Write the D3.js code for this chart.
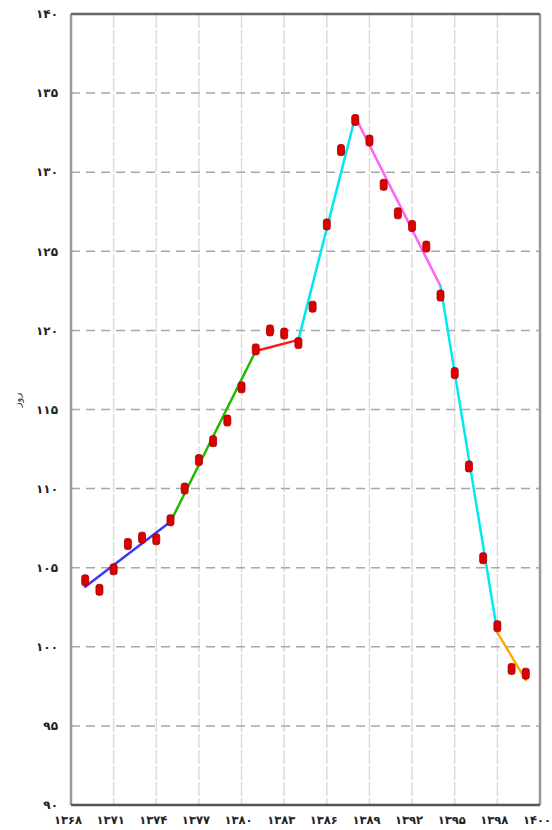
<!DOCTYPE html>
<html>
  <head>
    <meta charset="utf-8">
    <script type="text/javascript" src="https://cdn.jsdelivr.net/npm/d3@7"></script>
    <style>
      body { margin: 0; background: #fff; }
      text { font-family: "DejaVu Sans", sans-serif; }
    </style>
  </head>
  <body>
    <script type="text/javascript">
      WIDTH = 552
      HEIGHT = 830

      // observed values, one per year
      var years = [1369, 1370, 1371, 1372, 1373, 1374, 1375, 1376, 1377, 1378, 1379, 1380,
                   1381, 1382, 1383, 1384, 1385, 1386, 1387, 1388, 1389, 1390, 1391, 1392,
                   1393, 1394, 1395, 1396, 1397, 1398, 1399, 1400]
      var values = [104.2, 103.6, 104.9, 106.5, 106.9, 106.8, 108.0, 110.0, 111.8, 113.0, 114.3, 116.4,
                    118.8, 120.0, 119.8, 119.2, 121.5, 126.7, 131.4, 133.3, 132.0, 129.2, 127.4, 126.6,
                    125.3, 122.2, 117.3, 111.4, 105.6, 101.3, 98.6, 98.3]

      // fitted trend, piecewise between break years
      var breakYears = [1369, 1375, 1381, 1384, 1388, 1394, 1398, 1400]
      var breakValues = [103.8, 107.9, 118.7, 119.4, 133.5, 122.8, 100.9, 97.9]
      var segmentColors = ["#3a3aff", "#22bb00", "#ff1a1a", "#00e8f0", "#ff66ee", "#00e8f0", "#ffaa00"]

      // tick labels
      var xTicks = [1368, 1371, 1374, 1377, 1380, 1383, 1386, 1389, 1392, 1395, 1398]
      var xTickLabels = ["۱۳۶۸", "۱۳۷۱", "۱۳۷۴", "۱۳۷۷", "۱۳۸۰", "۱۳۸۳", "۱۳۸۶", "۱۳۸۹", "۱۳۹۲", "۱۳۹۵", "۱۳۹۸"]
      var lastTick = 1401
      var lastTickLabel = "۱۴۰۰"
      var yTicks = [90, 95, 100, 105, 110, 115, 120, 125, 130, 135, 140]
      var yTickLabels = ["۹۰", "۹۵", "۱۰۰", "۱۰۵", "۱۱۰", "۱۱۵", "۱۲۰", "۱۲۵", "۱۳۰", "۱۳۵", "۱۴۰"]
      var yTitle = "روز"

      var LEFT = 71, RIGHT = 540, TOP = 14, BOTTOM = 805

      var svg = d3.select("body").append("svg")
        .attr("width", WIDTH)
        .attr("height", HEIGHT)

      var x = d3.scaleLinear().domain([1368, 1401]).range([LEFT, RIGHT])
      var y = d3.scaleLinear().domain([90, 140]).range([BOTTOM, TOP])

      // vertical grid
      svg.selectAll(".vgrid").data(xTicks.slice(1)).enter()
        .append("line")
        .attr("x1", d => x(d)).attr("x2", d => x(d))
        .attr("y1", TOP).attr("y2", BOTTOM)
        .attr("stroke", "#dcdcdc")
        .attr("stroke-width", 1.5)
        .attr("stroke-dasharray", "14,2")

      // horizontal dashed grid
      svg.selectAll(".hgrid").data(yTicks.slice(1, -1)).enter()
        .append("line")
        .attr("x1", LEFT).attr("x2", RIGHT)
        .attr("y1", d => y(d)).attr("y2", d => y(d))
        .attr("stroke", "#a8a8a8")
        .attr("stroke-width", 1.5)
        .attr("stroke-dasharray", "9,6")

      // frame
      svg.append("line").attr("x1", LEFT).attr("x2", LEFT).attr("y1", TOP).attr("y2", BOTTOM)
        .attr("stroke", "#999").attr("stroke-width", 2.5)
      svg.append("line").attr("x1", RIGHT).attr("x2", RIGHT).attr("y1", TOP).attr("y2", BOTTOM)
        .attr("stroke", "#999").attr("stroke-width", 2.5)
      svg.append("line").attr("x1", LEFT).attr("x2", RIGHT).attr("y1", TOP).attr("y2", TOP)
        .attr("stroke", "#666").attr("stroke-width", 2.5)
      svg.append("line").attr("x1", LEFT).attr("x2", RIGHT).attr("y1", BOTTOM).attr("y2", BOTTOM)
        .attr("stroke", "#555").attr("stroke-width", 2.5)

      // y labels
      svg.selectAll(".ylab").data(yTicks).enter()
        .append("text")
        .attr("x", 58)
        .attr("y", d => y(d))
        .attr("dy", "0.35em")
        .attr("text-anchor", "end")
        .attr("font-size", 12)
        .attr("font-weight", "bold")
        .attr("fill", "#222")
        .text((d, i) => yTickLabels[i])

      // x labels
      svg.selectAll(".xlab").data(xTicks).enter()
        .append("text")
        .attr("x", d => x(d) - 3)
        .attr("y", 824)
        .attr("text-anchor", "middle")
        .attr("font-size", 11.5)
        .attr("font-weight", "bold")
        .attr("fill", "#222")
        .text((d, i) => xTickLabels[i])
      svg.append("text")
        .attr("x", WIDTH - 1)
        .attr("y", 824)
        .attr("text-anchor", "end")
        .attr("font-size", 11.5)
        .attr("font-weight", "bold")
        .attr("fill", "#222")
        .text(lastTickLabel)

      // y title
      svg.append("text")
        .attr("transform", "translate(21,400) rotate(-90)")
        .attr("text-anchor", "middle")
        .attr("font-size", 10)
        .attr("fill", "#333")
        .text(yTitle)

      // trend segments
      for (var i = 0; i < breakYears.length - 1; i++)
      {
        svg.append("line")
          .attr("x1", x(breakYears[i])).attr("y1", y(breakValues[i]))
          .attr("x2", x(breakYears[i + 1])).attr("y2", y(breakValues[i + 1]))
          .attr("stroke", segmentColors[i])
          .attr("stroke-width", 2.5)
          .attr("stroke-linecap", "round")
      }

      // markers
      svg.selectAll(".pt").data(values).enter()
        .append("rect")
        .attr("x", (d, i) => x(years[i]) - 3.5)
        .attr("y", d => y(d) - 5.5)
        .attr("width", 7)
        .attr("height", 11)
        .attr("rx", 2.5)
        .attr("fill", "#dd0000")
        .attr("stroke", "#a00000")
        .attr("stroke-width", 0.8)
    </script>
  </body>
</html>
